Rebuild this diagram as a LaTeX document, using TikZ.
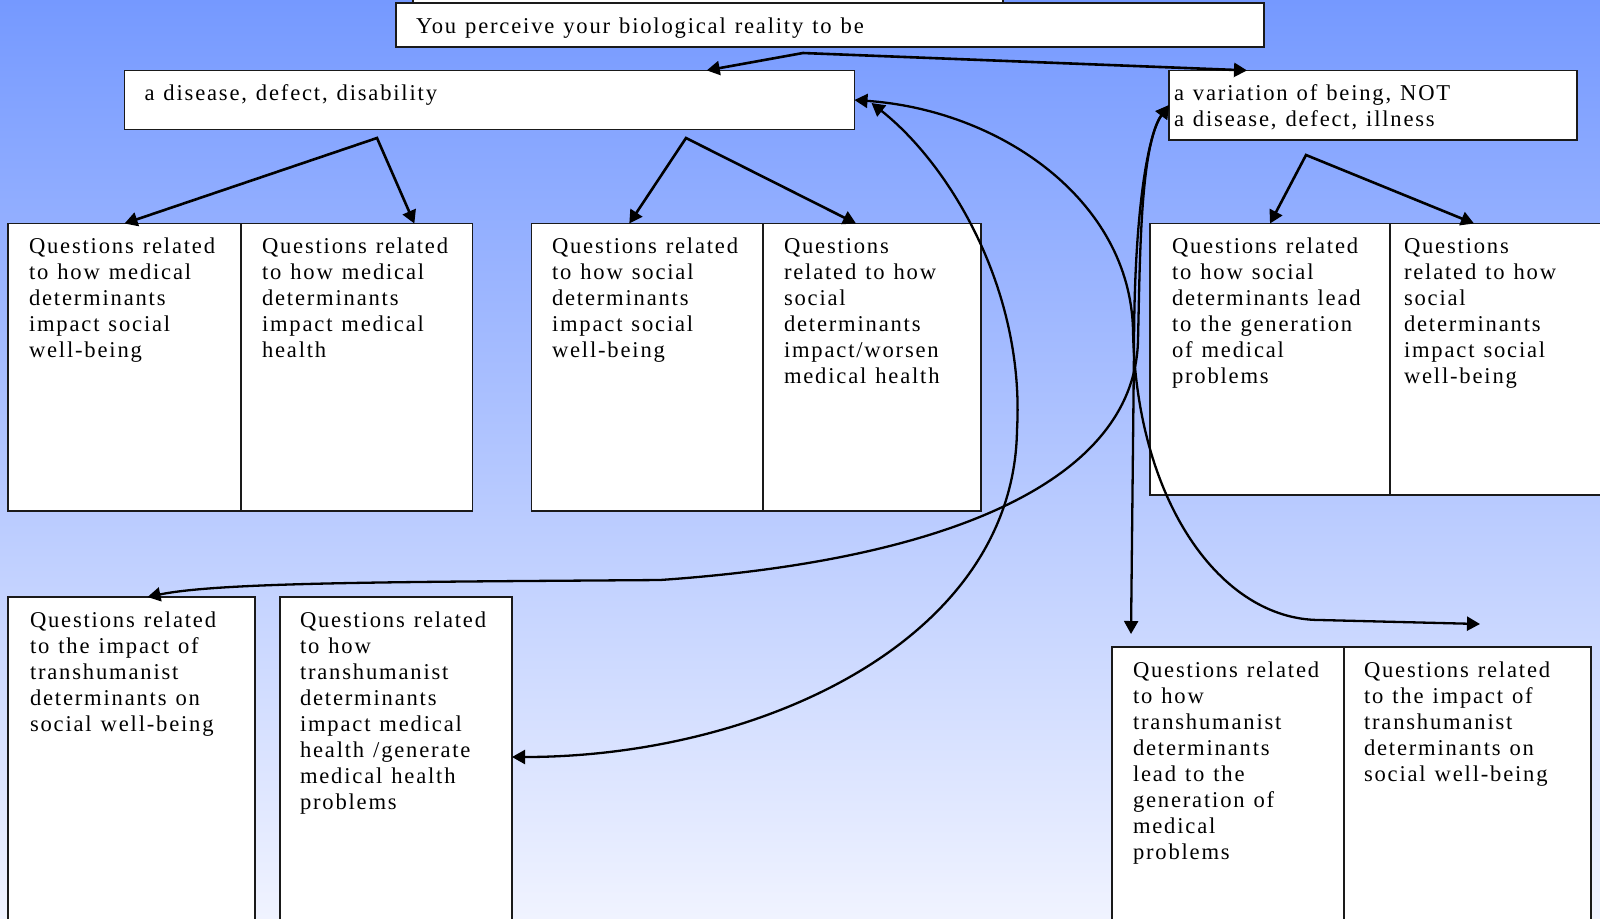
\documentclass[tikz,border=0pt]{standalone}
\usepackage{fontspec}
\setmainfont{Liberation Serif}[LetterSpace=8,WordSpace=1.2]
\usetikzlibrary{arrows.meta,positioning}
\definecolor{SkyTop}{HTML}{7599FF}
\definecolor{SkyBottom}{HTML}{F0F3FF}
\definecolor{BoxLine}{HTML}{1A1A1A}
% text block pinned to the top left of a cell: [pad]{width}{height}{text}
\newcommand{\boxtext}[4][10.5pt]{\parbox[t][#3][t]{#2}{\raggedright\leftskip=#1\rule{0pt}{15pt}#4}}
\tikzset{
    % Base cell style
    qbox/.style={
        draw=BoxLine,
        fill=white,
        line width=0.7pt,
        anchor=north west,
        inner sep=0pt,
        outer sep=0pt,
        font=\fontsize{11.3}{13}\selectfont
    },
    % Tree arrows (fork with two heads)
    treearrow/.style={
        <->,
        >={Triangle[length=6.5pt,width=7pt]},
        line width=1.3pt,
        line join=miter,
        draw=black
    },
    % Long curved links
    linkcurve/.style={
        <->,
        >={Triangle[length=6.5pt,width=7pt]},
        line width=1.15pt,
        draw=black
    }
}
\begin{document}
\begin{tikzpicture}[x=0.5pt, y=-0.5pt]
    \useasboundingbox (0,0) rectangle (1600,918);
    \shade[top color=SkyTop, bottom color=SkyBottom] (0,0) rectangle (1600,918);

    % top row
    \node[qbox] (prevbox) at (413,-40) {\boxtext{295pt}{21.5pt}{}};
    \node[qbox] (topbox) at (396,3) {\boxtext[10pt]{434pt}{22pt}{You perceive your biological reality to be}};
    \node[qbox] (disease) at (124.5,70.4) {\boxtext[10pt]{365pt}{29.6pt}{a disease, defect, disability}};
    \node[qbox] (variation) at (1169,70.4) {\boxtext[2.5pt]{204pt}{34.7pt}{a variation of being, NOT\\a disease, defect, illness}};

    % second row
    \node[qbox] (medsocial) at (8,223.5) {\boxtext{116.5pt}{143.75pt}{Questions related\\to how medical\\determinants\\impact social\\well-being}};
    \node[qbox, right=0pt of medsocial] (medmedical) {\boxtext{115.75pt}{143.75pt}{Questions related\\to how medical\\determinants\\impact medical\\health}};
    \node[qbox] (socsocial) at (531.6,223.5) {\boxtext[10.2pt]{115.7pt}{143.75pt}{Questions related\\to how social\\determinants\\impact social\\well-being}};
    \node[qbox, right=0pt of socsocial] (socmedical) {\boxtext{109pt}{143.75pt}{Questions\\related to how\\social\\determinants\\impact/worsen\\medical health}};
    \node[qbox] (varmedical) at (1150,223.5) {\boxtext[11pt]{120pt}{135.75pt}{Questions related\\to how social\\determinants lead\\to the generation\\of medical\\problems}};
    \node[qbox, right=0pt of varmedical] (varsocial) {\boxtext[7pt]{130pt}{135.75pt}{Questions\\related to how\\social\\determinants\\impact social\\well-being}};

    % third row
    \node[qbox] (transsocial) at (8,597) {\boxtext[11pt]{123.5pt}{170pt}{Questions related\\to the impact of\\transhumanist\\determinants on\\social well-being}};
    \node[qbox] (transmedical) at (280,597) {\boxtext[10pt]{116pt}{170pt}{Questions related\\to how\\transhumanist\\determinants\\impact medical\\health /generate\\medical health\\problems}};
    \node[qbox] (transgen) at (1112,647) {\boxtext{116pt}{150pt}{Questions related\\to how\\transhumanist\\determinants\\lead to the\\generation of\\medical\\problems}};
    \node[qbox, right=0pt of transgen] (transimpact) {\boxtext[10pt]{123.5pt}{150pt}{Questions related\\to the impact of\\transhumanist\\determinants on\\social well-being}};

    % forks
    \coordinate (forktop) at (803,53);
    \coordinate (forkmed) at (377,138);
    \coordinate (forksoc) at (686,138);
    \coordinate (forkvar) at (1306,155);
    \draw[treearrow] ([xshift=108.6pt]disease.north) -- (forktop) -- ([xshift=-63pt]variation.north);
    \draw[treearrow] (medsocial.north) -- (forkmed) -- ([xshift=28.8pt]medmedical.north);
    \draw[treearrow] ([xshift=-9pt]socsocial.north) -- (forksoc) -- ([xshift=-8pt]socmedical.north);
    \draw[treearrow] (varmedical.north) -- (forkvar) -- ([xshift=42pt]varsocial.north west);

    % curved links
    \coordinate (transgentip) at (1131,634);
    \coordinate (transimptip) at (1480,624);
    \draw[linkcurve] ([xshift=8.5pt,yshift=-1.5pt]disease.east) .. controls (950,165) and (1025,290) .. (1017,430)
        .. controls (1014,640) and (760,757) .. ([yshift=-80pt]transmedical.north east);
    \draw[linkcurve] (disease.east) .. controls (1000,110) and (1130,200) .. (1133,330)
        .. controls (1136,500) and (1220,620) .. (1320,620) -- (transimptip);
    \draw[linkcurve] (variation.west) .. controls (1140,145) and (1140,260) .. (1138,340)
        .. controls (1135,480) and (950,560) .. (660,580) .. controls (400,582) and (220,582) .. ([xshift=8pt]transsocial.north);
    \draw[linkcurve] (variation.west) .. controls (1150,130) and (1134,200) .. (1134,350) -- (transgentip);
\end{tikzpicture}
\end{document}
